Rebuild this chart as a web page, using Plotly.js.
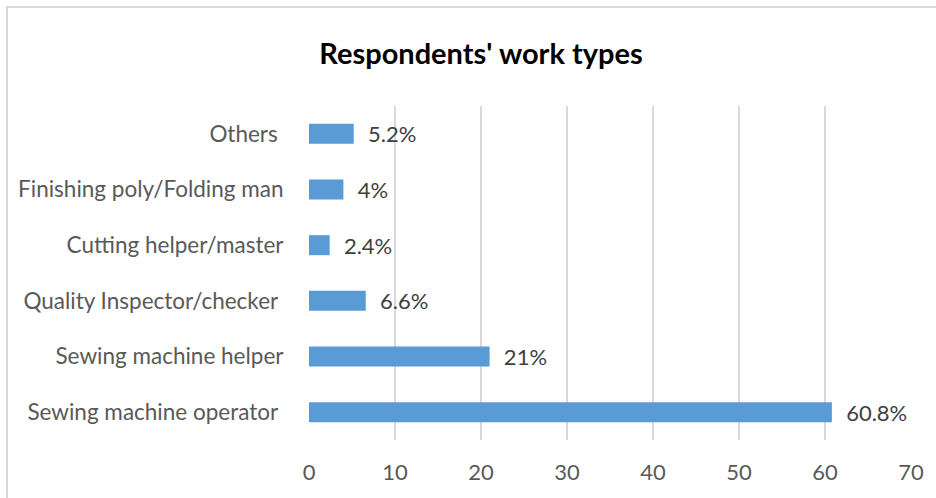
<!DOCTYPE html>
<html>
<head>
<meta charset="utf-8">
<script src="https://cdn.plot.ly/plotly-3.0.1.min.js"></script>
<style>html,body{margin:0;padding:0;background:#fff;}#chart{width:936px;height:498px;}</style>
</head>
<body>
<div id="chart"></div>
<script>
// Data (bottom to top)
const categories = [
  "Sewing machine operator\u00a0",
  "Sewing machine helper",
  "Quality Inspector/checker\u00a0",
  "Cutting helper/master",
  "Finishing poly/Folding man",
  "Others\u00a0"
];
const values = [60.8, 21, 6.6, 2.4, 4, 5.2];
const xTicks = [0, 10, 20, 30, 40, 50, 60, 70];

const FONT = "Lato, 'Open Sans', sans-serif";

const trace = {
  type: "bar",
  orientation: "h",
  y: categories,
  x: values,
  marker: { color: "#5b9bd5" },
  texttemplate: "\u00a0\u00a0%{x}%",
  textposition: "outside",
  constraintext: "none",
  cliponaxis: false,
  textfont: { family: FONT, size: 22, color: "#404040" },
  hoverinfo: "skip"
};

const layout = {
  width: 936,
  height: 498,
  paper_bgcolor: "#ffffff",
  plot_bgcolor: "#ffffff",
  margin: { l: 309, r: 25, t: 106, b: 58 },
  bargap: 0.64,
  showlegend: false,
  title: {
    text: "<b>Respondents' work types</b>",
    font: { family: FONT, size: 29, color: "#000000" },
    x: 481 / 936,
    xanchor: "center",
    y: 1 - 54 / 498,
    yanchor: "middle"
  },
  xaxis: {
    range: [0, 70],
    tickvals: xTicks,
    ticktext: xTicks.map(String),
    showgrid: true,
    gridcolor: "#d9d9d9",
    gridwidth: 1.5,
    zeroline: false,
    showline: false,
    ticks: "outside",
    ticklen: 13,
    tickcolor: "rgba(0,0,0,0)",
    tickfont: { family: FONT, size: 22, color: "#595959" },
    fixedrange: true
  },
  yaxis: {
    type: "category",
    showgrid: false,
    zeroline: false,
    showline: false,
    ticks: "outside",
    ticklen: 20,
    tickcolor: "rgba(0,0,0,0)",
    tickfont: { family: FONT, size: 22.5, color: "#595959" },
    fixedrange: true
  },
  shapes: [
    {
      type: "rect", xref: "paper", yref: "paper",
      x0: -302 / 602, x1: (940 - 309) / 602,
      y0: -(510 - 440) / 334, y1: (440 - 7) / 334,
      line: { color: "#d9d9d9", width: 2 },
      fillcolor: "rgba(0,0,0,0)",
      layer: "below"
    }
  ]
};

Plotly.newPlot("chart", [trace], layout, { displayModeBar: false, staticPlot: true });
</script>
</body>
</html>
